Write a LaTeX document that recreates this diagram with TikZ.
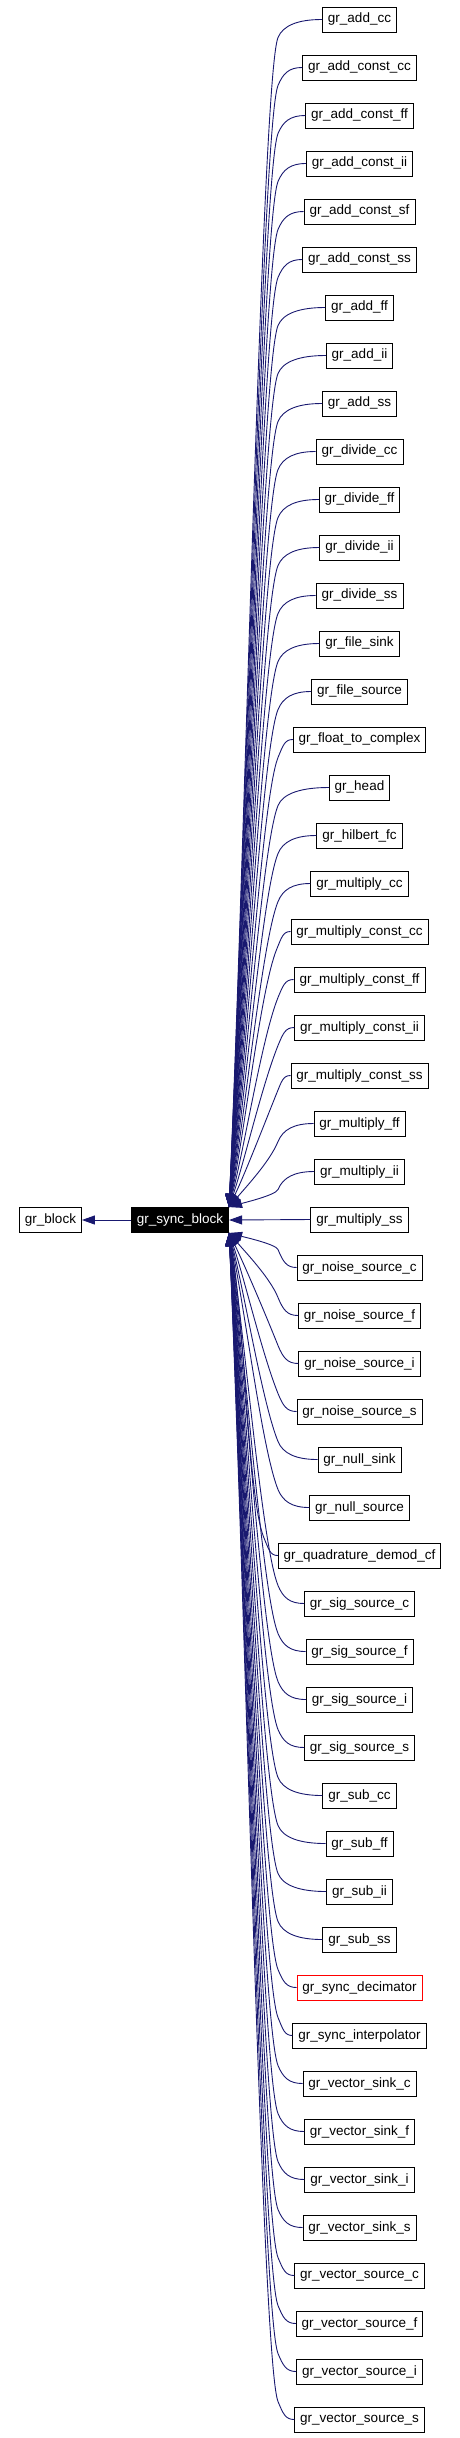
\documentclass[tikz,border=0pt]{standalone}
\usepackage{fontspec}
\setmainfont{Liberation Sans}
\usetikzlibrary{arrows.meta}
\definecolor{edgeblue}{RGB}{25,25,112}

\begin{document}
\begin{tikzpicture}[x=1pt,y=-1pt,
  cls/.style={draw,line width=0.8pt,minimum height=25pt,inner xsep=5.5pt,inner ysep=0pt,font=\fontsize{13.5}{14}\selectfont},
  edge/.style={edgeblue,line width=0.9pt,{Triangle[length=13pt,width=9pt]}-}]
  \useasboundingbox (0,0) rectangle (459,2438);
  \node[cls] (block) at (50.5,1220) {gr\_block};
  \node[cls,fill=black,text=white] (sync) at (180,1220) {gr\_sync\_block};
  \draw[edge] (block.east) -- (sync.west);
  % derived classes, one row each
  \foreach \name [count=\i from 0] in {gr\_add\_cc,gr\_add\_const\_cc,gr\_add\_const\_ff,gr\_add\_const\_ii,
      gr\_add\_const\_sf,gr\_add\_const\_ss,gr\_add\_ff,gr\_add\_ii,gr\_add\_ss,gr\_divide\_cc,gr\_divide\_ff,
      gr\_divide\_ii,gr\_divide\_ss,gr\_file\_sink,gr\_file\_source,gr\_float\_to\_complex,gr\_head,
      gr\_hilbert\_fc,gr\_multiply\_cc,gr\_multiply\_const\_cc,gr\_multiply\_const\_ff,gr\_multiply\_const\_ii,
      gr\_multiply\_const\_ss,gr\_multiply\_ff,gr\_multiply\_ii,gr\_multiply\_ss,gr\_noise\_source\_c,
      gr\_noise\_source\_f,gr\_noise\_source\_i,gr\_noise\_source\_s,gr\_null\_sink,gr\_null\_source,
      gr\_quadrature\_demod\_cf,gr\_sig\_source\_c,gr\_sig\_source\_f,gr\_sig\_source\_i,gr\_sig\_source\_s,
      gr\_sub\_cc,gr\_sub\_ff,gr\_sub\_ii,gr\_sub\_ss,gr\_sync\_decimator,gr\_sync\_interpolator,
      gr\_vector\_sink\_c,gr\_vector\_sink\_f,gr\_vector\_sink\_i,gr\_vector\_sink\_s,gr\_vector\_source\_c,
      gr\_vector\_source\_f,gr\_vector\_source\_i,gr\_vector\_source\_s} {
    \ifnum\i=41 \def\bc{red}\else\def\bc{black}\fi
    \node[cls,draw=\bc] (c\i) at (359.5,19.5+48*\i) {\name};
  }
  % inheritance edges: short bend at the child, then a long run to the base
  \foreach \i in {0,...,50} {
    \pgfmathsetmacro\yc{19.5+48*\i}
    \ifnum\i=25
      \draw[edge] (sync.east) -- (c\i.west);
    \else
      \ifnum\i<25 \def\s{1}\def\ye{1208}\def\tip{north east}\else\def\s{-1}\def\ye{1232}\def\tip{south east}\fi
      \path (c\i.west); \pgfgetlastxy{\xw}{\yw}
      \pgfmathsetmacro\xb{min(278,\xw-14)}
      \pgfmathsetmacro\xp{\xw-0.55*(\xw-\xb)}
      \pgfmathsetmacro\yb{\yc+18*\s}
      \pgfmathsetmacro\d{abs(\ye-\yb)}
      \pgfmathsetmacro\L{min(40,0.3*\d)}
      \pgfmathsetmacro\xa{\xb-0.4*\L}
      \pgfmathsetmacro\ya{\yb+\L*\s}
      \pgfmathsetmacro\yd{\ye-0.3*\d*\s}
      \draw[edge] (sync.\tip) .. controls (245,\yd) and (\xa,\ya) .. (\xb,\yb)
        .. controls (\xb+5,\yc+6*\s) and (\xp,\yc) .. (c\i.west);
    \fi
  }
\end{tikzpicture}
\end{document}
